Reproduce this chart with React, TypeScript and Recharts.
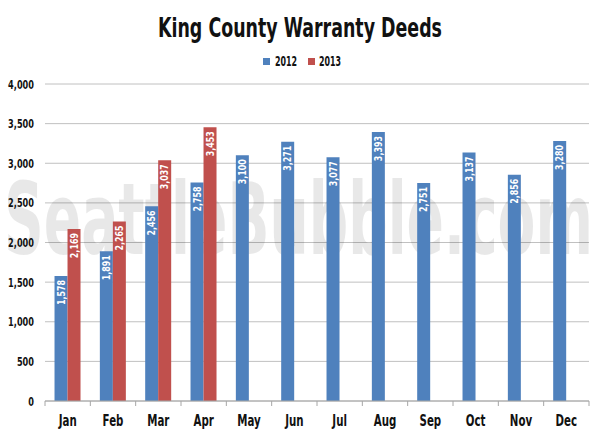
import { Bar, BarChart, CartesianGrid, LabelList, XAxis, YAxis } from "recharts"

const months = ["Jan", "Feb", "Mar", "Apr", "May", "Jun", "Jul", "Aug", "Sep", "Oct", "Nov", "Dec"]
const deeds2012 = [1578, 1891, 2456, 2758, 3100, 3271, 3077, 3393, 2751, 3137, 2856, 3280]
const deeds2013 = [2169, 2265, 3037, 3453, null, null, null, null, null, null, null, null]
const yTicks = [0, 500, 1000, 1500, 2000, 2500, 3000, 3500, 4000]

const data = months.map((m, i) => ({ month: m, y2012: deeds2012[i], y2013: deeds2013[i] }))

const FONT = "'DejaVu Sans Condensed', 'DejaVu Sans', sans-serif"
const W = 600
const H = 436
const LEFT = 45
const RIGHT = 11
const BAND = (W - LEFT - RIGHT) / months.length
const BLUE = "#4f81bd"
const RED = "#c0504d"

const fmt = (v: number) => v.toLocaleString("en-US")

// squeezed text, to mimic the narrow font of the original
function Narrow({ x, y, sx, anchor = "start", size, fill = "#111", rotate = 0, children }: any) {
  return (
    <g transform={`translate(${x} ${y}) rotate(${rotate}) scale(${sx} 1)`}>
      <text x={0} y={0} textAnchor={anchor} fontSize={size} fontWeight="bold" fontFamily={FONT} fill={fill}>
        {children}
      </text>
    </g>
  )
}

function BarLabel(props: any) {
  const { x, y, width, value } = props
  if (value == null) return null
  return (
    <Narrow x={x + width / 2 + 3.5} y={y + 4} rotate={-90} sx={0.88} anchor="end" size={10} fill="#fff">
      {fmt(value)}
    </Narrow>
  )
}

function MonthTick(props: any) {
  const { x, y, payload, index } = props
  const left = x - BAND / 2
  return (
    <g>
      <line x1={left} y1={y - 8} x2={left} y2={y - 3} stroke="#a6a6a6" />
      {index === months.length - 1 && (
        <line x1={x + BAND / 2} y1={y - 8} x2={x + BAND / 2} y2={y - 3} stroke="#a6a6a6" />
      )}
      <Narrow x={x} y={y + 17} sx={0.76} anchor="middle" size={15}>
        {payload.value}
      </Narrow>
    </g>
  )
}

function ValueTick(props: any) {
  const { x, y, payload } = props
  return (
    <Narrow x={x - 3} y={y + 4.5} sx={0.7} anchor="end" size={13}>
      {fmt(payload.value)}
    </Narrow>
  )
}

export default function App() {
  return (
    <div style={{ position: "absolute", left: 0, top: 0, width: W, height: H, background: "#fff" }}>
      <BarChart
        width={W}
        height={H}
        data={data}
        margin={{ top: 84, right: RIGHT, bottom: 5, left: 0 }}
        barCategoryGap="21%"
        barGap={0}
      >
        <CartesianGrid vertical={false} stroke="#c0c0c0" />
        <XAxis
          dataKey="month"
          axisLine={{ stroke: "#a6a6a6" }}
          tickLine={false}
          interval={0}
          tick={<MonthTick />}
        />
        <YAxis
          width={LEFT}
          domain={[0, 4000]}
          ticks={yTicks}
          axisLine={false}
          tickLine={false}
          tick={<ValueTick />}
        />
        <Bar dataKey="y2012" fill={BLUE} isAnimationActive={false}>
          <LabelList dataKey="y2012" content={<BarLabel />} />
        </Bar>
        <Bar dataKey="y2013" fill={RED} isAnimationActive={false}>
          <LabelList dataKey="y2013" content={<BarLabel />} />
        </Bar>
        <text
          x={158}
          y={37}
          textLength={284}
          lengthAdjust="spacingAndGlyphs"
          fontSize={27}
          fontWeight="bold"
          fontFamily={FONT}
          fill="#111"
        >
          King County Warranty Deeds
        </text>
        <rect x={263} y={58} width={7} height={7} fill={BLUE} />
        <Narrow x={275} y={66} sx={0.63} size={14}>2012</Narrow>
        <rect x={308} y={58} width={7} height={7} fill={RED} />
        <Narrow x={319} y={66} sx={0.63} size={14}>2013</Narrow>
        <text
          x={4}
          y={254}
          textLength={589}
          lengthAdjust="spacingAndGlyphs"
          fontSize={99}
          fontWeight="bold"
          fontFamily={FONT}
          fill="#000"
          fillOpacity={0.09}
        >
          SeattleBubble.com
        </text>
      </BarChart>
    </div>
  )
}
